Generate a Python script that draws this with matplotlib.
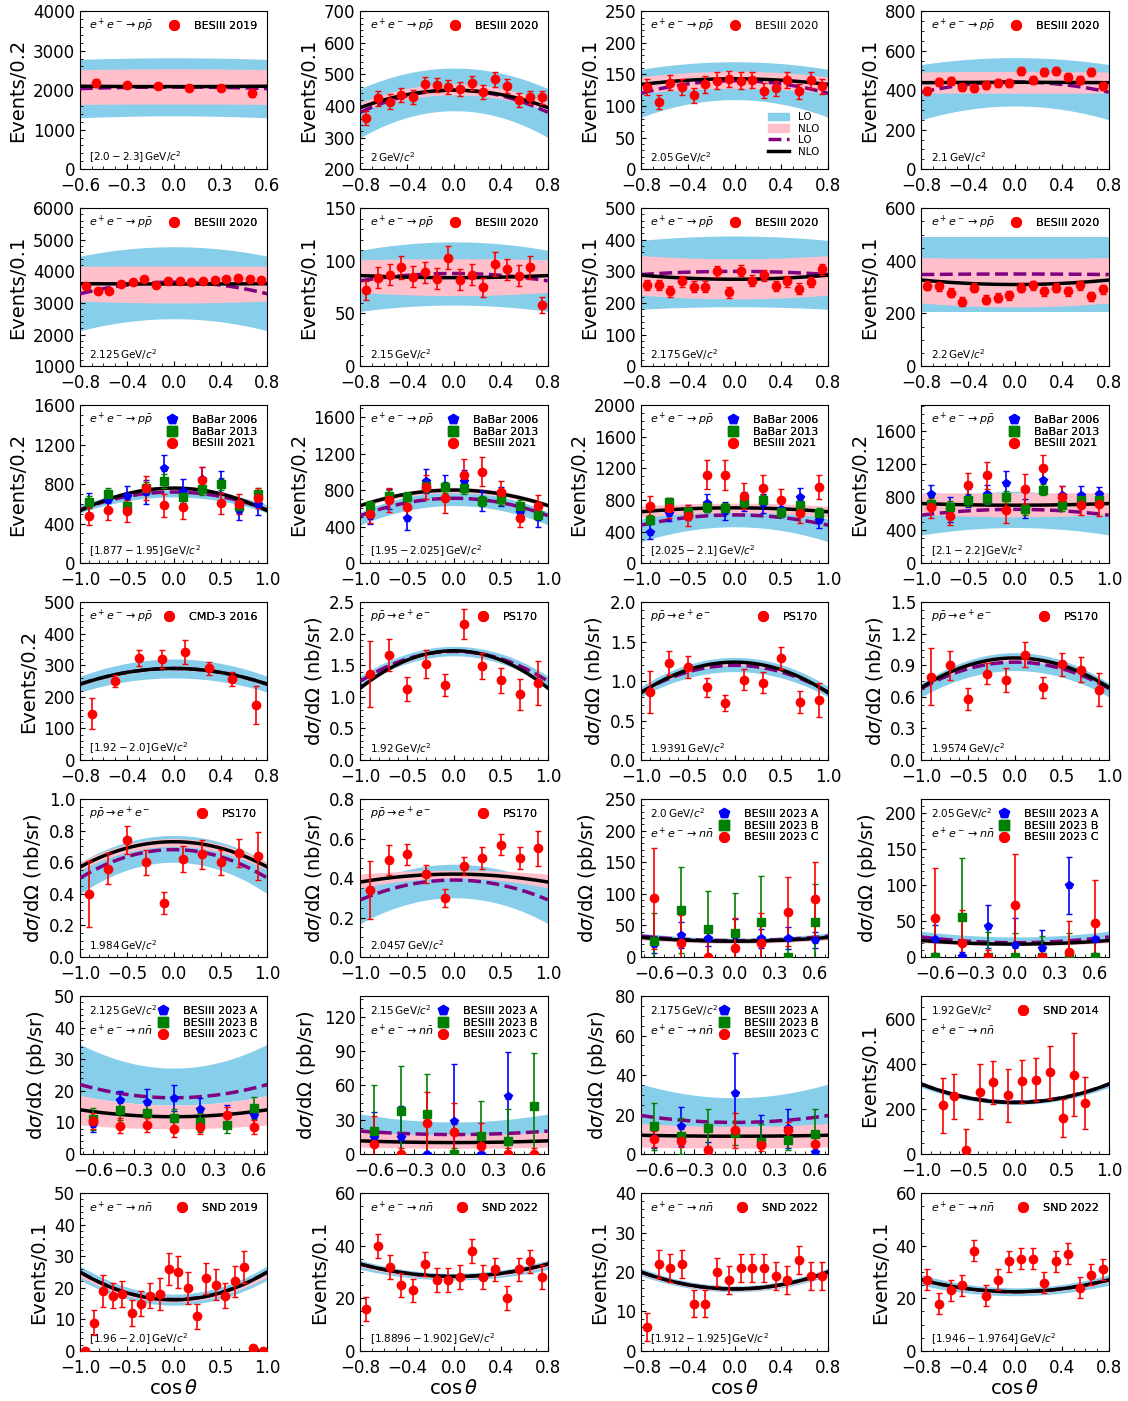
import numpy as np
import matplotlib.pyplot as plt
from matplotlib.lines import Line2D
from matplotlib.patches import Patch

# cos(theta) bin centres
cos6 = [-0.5, -0.3, -0.1, 0.1, 0.3, 0.5]
cos7 = [-0.6, -0.4, -0.2, 0.0, 0.2, 0.4, 0.6]
cos8 = [-0.7, -0.5, -0.3, -0.1, 0.1, 0.3, 0.5, 0.7]
cos10 = [-0.9, -0.7, -0.5, -0.3, -0.1, 0.1, 0.3, 0.5, 0.7, 0.9]
cos16 = [-0.75, -0.65, -0.55, -0.45, -0.35, -0.25, -0.15, -0.05,
         0.05, 0.15, 0.25, 0.35, 0.45, 0.55, 0.65, 0.75]
cos20 = [-0.95, -0.85, -0.75, -0.65, -0.55, -0.45, -0.35, -0.25, -0.15, -0.05,
         0.05, 0.15, 0.25, 0.35, 0.45, 0.55, 0.65, 0.75, 0.85, 0.95]
cos_snd14 = [-0.77, -0.65, -0.52, -0.38, -0.24, -0.08, 0.07, 0.22, 0.37, 0.51, 0.63, 0.75]

# ---- e+e- -> p pbar, BESIII 2019 / 2020 ----
bes19_y = [2190, 2120, 2100, 2060, 2060, 1920]
bes19_e = [100, 60, 60, 60, 60, 100]
bes20a_y = [362, 425, 413, 435, 428, 468, 465, 460, 455, 473, 443, 485, 463, 420, 427, 427]
bes20a_e = [22, 24, 24, 22, 22, 24, 22, 22, 22, 22, 22, 24, 22, 22, 22, 22]
bes20b_y = [130, 107, 137, 130, 117, 134, 140, 143, 140, 141, 124, 128, 141, 123, 141, 131]
bes20b_e = [12, 11, 12, 12, 12, 13, 13, 13, 13, 13, 12, 12, 13, 12, 13, 12]
bes20c_y = [395, 440, 445, 415, 410, 425, 435, 435, 495, 450, 490, 497, 465, 450, 490, 420]
bes20c_e = [20] * 16
bes20d_y = [3540, 3380, 3390, 3600, 3660, 3760, 3560, 3680, 3700, 3660, 3680, 3740, 3770, 3790, 3760, 3730]
bes20d_e = [60] * 16
bes20e_y = [72, 84, 87, 94, 85, 89, 83, 103, 82, 87, 75, 97, 92, 86, 94, 58]
bes20e_e = [9, 10, 10, 11, 10, 10, 10, 11, 10, 10, 9, 11, 10, 10, 11, 8]
bes20f_y = [257, 257, 237, 268, 251, 252, 300, 234, 302, 270, 288, 254, 268, 245, 266, 306]
bes20f_e = [17] * 16
bes20g_y = [305, 303, 278, 245, 298, 252, 260, 270, 298, 308, 285, 298, 285, 308, 266, 292]
bes20g_e = [17] * 16

# ---- BaBar 2006 / BaBar 2013 / BESIII 2021 ----
bb06_1_y = [610, 640, 680, 720, 960, 730, 850, 820, 540, 600]
bb06_1_e = [100, 100, 100, 120, 130, 120, 120, 110, 100, 110]
bb13_1_y = [620, 700, 575, 760, 830, 670, 750, 800, 580, 700]
bb13_1_e = [60, 60, 60, 60, 70, 60, 60, 60, 60, 60]
bes21_1_y = [480, 540, 530, 760, 585, 565, 840, 605, 600, 660]
bes21_1_e = [90, 100, 110, 120, 120, 120, 130, 110, 100, 100]

bb06_2_y = [520, 700, 490, 900, 840, 900, 680, 730, 560, 500]
bb06_2_e = [90, 110, 130, 130, 120, 120, 110, 100, 90, 100]
bb13_2_y = [620, 740, 720, 840, 830, 820, 680, 700, 630, 530]
bb13_2_e = [60] * 10
bes21_2_y = [540, 690, 610, 830, 710, 970, 1000, 780, 490, 630]
bes21_2_e = [100, 130, 130, 130, 160, 170, 160, 120, 100, 120]

bb06_3_y = [400, 640, 640, 760, 660, 780, 760, 680, 840, 540]
bb06_3_e = [100, 110, 100, 110, 120, 120, 120, 100, 110, 90]
bb13_3_y = [550, 770, 650, 710, 700, 770, 800, 650, 730, 640]
bb13_3_e = [60] * 10
bes21_3_y = [720, 700, 600, 1120, 1120, 850, 950, 800, 640, 960]
bes21_3_e = [130, 130, 130, 180, 190, 160, 170, 140, 130, 150]

bb06_4_y = [830, 650, 790, 830, 970, 660, 1000, 820, 820, 830]
bb06_4_e = [110, 150, 110, 110, 140, 110, 130, 110, 110, 90]
bb13_4_y = [720, 680, 760, 790, 800, 650, 890, 700, 760, 760]
bb13_4_e = [70] * 10
bes21_4_y = [680, 570, 940, 1060, 640, 900, 1150, 800, 700, 720]
bes21_4_e = [130, 110, 150, 160, 160, 180, 160, 130, 120, 150]

# ---- CMD-3 2016 ----
cmd3_y = [147, 250, 322, 320, 342, 290, 257, 175]
cmd3_e = [48, 18, 25, 30, 38, 20, 22, 60]

# ---- PS170, p pbar -> e+e- (nb/sr) ----
ps1_y = [1.36, 1.66, 1.13, 1.52, 1.19, 2.15, 1.49, 1.26, 1.04, 1.22]
ps1_e = [0.52, 0.25, 0.19, 0.22, 0.18, 0.24, 0.20, 0.20, 0.24, 0.35]
ps2_y = [0.86, 1.23, 1.18, 0.92, 0.72, 1.02, 0.98, 1.29, 0.73, 0.76]
ps2_e = [0.27, 0.15, 0.14, 0.12, 0.10, 0.13, 0.13, 0.14, 0.14, 0.22]
ps3_y = [0.79, 0.90, 0.58, 0.82, 0.76, 1.00, 0.69, 0.91, 0.86, 0.67]
ps3_e = [0.27, 0.14, 0.10, 0.10, 0.11, 0.12, 0.10, 0.11, 0.12, 0.16]
ps4_y = [0.40, 0.56, 0.74, 0.60, 0.34, 0.62, 0.65, 0.60, 0.66, 0.64]
ps4_e = [0.21, 0.10, 0.09, 0.08, 0.07, 0.08, 0.09, 0.08, 0.09, 0.15]
ps5_y = [0.34, 0.49, 0.52, 0.42, 0.30, 0.46, 0.50, 0.57, 0.50, 0.55]
ps5_e = [0.145, 0.075, 0.055, 0.045, 0.045, 0.045, 0.055, 0.055, 0.055, 0.09]

# ---- e+e- -> n nbar, BESIII 2023 A / B / C (pb/sr) ----
b23a_1_y = [20, 35, 30, 35, 30, 30, 27]
b23a_1_e = [13, 20, 12, 25, 15, 17, 12]
b23b_1_y = [25, 75, 45, 38, 55, 0, 55]
b23b_1_e = [45, 68, 60, 63, 73, 30, 60]
b23c_1_y = [93, 22, 0, 15, 23, 72, 92]
b23c_1_e = [80, 45, 40, 47, 47, 55, 58]

b23a_2_y = [25, 2, 43, 17, 13, 100, 25]
b23a_2_e = [20, 5, 30, 37, 24, 40, 20]
b23b_2_y = [0, 56, 0, 0, 0, 0, 0]
b23b_2_e = [50, 82, 35, 33, 30, 33, 47]
b23c_2_y = [54, 20, 0, 73, 0, 7, 48]
b23c_2_e = [70, 45, 10, 70, 10, 43, 60]

b23a_3_y = [9.5, 17, 16.5, 17.8, 14.3, 12.5, 12.3]
b23a_3_e = [2.5, 3, 4, 4.2, 3.5, 3, 3]
b23b_3_y = [11, 13.8, 13, 11.3, 10, 9.2, 14.5]
b23b_3_e = [3.5, 3, 3, 3, 3, 2.5, 3.5]
b23c_3_y = [10.5, 9, 9.2, 7.8, 8.5, 12.3, 8.5]
b23c_3_e = [2.5, 2.3, 2.3, 2.3, 2.3, 2.5, 2.3]

b23a_4_y = [15, 15, 0, 29, 0, 51, 0]
b23a_4_e = [22, 27, 0, 50, 0, 38, 0]
b23b_4_y = [20, 38, 35, 0, 16, 11, 42]
b23b_4_e = [40, 39, 35, 5, 30, 28, 46]
b23c_4_y = [9, 0, 27, 19, 7, 0, 0]
b23c_4_e = [24, 5, 27, 26, 20, 5, 5]

b23a_5_y = [8, 14, 2, 31, 5, 13, 1]
b23a_5_e = [5, 10, 4, 20, 15, 10, 3]
b23b_5_y = [14, 9, 13, 10.5, 6, 7, 10]
b23b_5_e = [12, 9, 10, 6, 9, 5, 13]
b23c_5_y = [7.5, 6.5, 2, 12, 4.5, 12, 5]
b23c_5_e = [4, 3, 2, 9, 3, 4, 4]

# ---- SND (events) ----
snd14_y = [215, 255, 18, 277, 317, 260, 323, 330, 362, 160, 352, 225]
snd14_e = [120, 100, 95, 120, 95, 118, 95, 95, 118, 85, 185, 115]
snd19_y = [0, 9, 19, 17.5, 18, 12, 15, 17.5, 18, 26, 25, 20, 11, 23, 21, 17.5, 22, 26.5, 1, 0]
snd19_e = [1, 4, 5, 4, 4, 4, 4, 4, 5, 5, 5, 5, 4, 5, 5, 4, 5, 5, 1, 1]
snd22a_y = [16, 40, 32, 25, 23, 33, 27, 27, 28, 38, 28, 31, 20, 31, 34, 28]
snd22a_e = [4.5] * 16
snd22b_y = [6, 22, 21, 22, 12, 12, 20, 18, 21, 21, 21, 19, 18, 23, 19, 19]
snd22b_e = [3.5] * 16
snd22c_y = [27, 18, 23, 25, 38, 21, 27, 34, 35, 35, 26, 34, 37, 24, 29, 31]
snd22c_e = [4] * 16

# ---- theory curves: (value at cos=0, value at the plotted edge), panel by panel ----
lo_band_low = [(1350, 1300), (385, 300), (110, 82), (320, 250),
               (2500, 2120), (58, 52), (188, 180), (205, 205),
               (670, 510), (630, 420), (460, 270), (430, 340),
               (260, 215), (1.65, 1.17), (1.12, 0.80), (0.85, 0.60),
               (0.60, 0.40), (0.30, 0.17), (22, 28), (18, 24),
               (15.5, 18.5), (8, 10), (13, 15), (220, 295),
               (14.5, 22.5), (27, 31), (15, 19), (21, 25)]
lo_band_high = [(2820, 2780), (520, 455), (170, 158), (565, 530),
                (4780, 4480), (118, 110), (412, 398), (490, 490),
                (750, 590), (780, 560), (700, 560), (870, 600),
                (320, 265), (1.80, 1.33), (1.30, 0.93), (1.02, 0.73),
                (0.77, 0.60), (0.47, 0.36), (30, 38), (28, 36),
                (27.2, 34.8), (28, 35), (28.5, 35.5), (240, 320),
                (18, 27), (29.5, 34.5), (16.5, 21), (24, 29)]
nlo_band_low = [(1650, 1640), (435, 385), (128, 120), (385, 385),
                (3000, 3060), (67, 70), (213, 225), (225, 240),
                (740, 520), (770, 610), (640, 580), (560, 590),
                (285, 235), (1.70, 1.12), (1.20, 0.84), (0.94, 0.68),
                (0.70, 0.55), (0.40, 0.35), (22, 27), (16, 20),
                (8, 9.2), (5, 6), (3, 3.5), (224, 305),
                (15.5, 23.5), (27.5, 32), (15.2, 19.4), (21.8, 26.3)]
nlo_band_high = [(2540, 2520), (470, 412), (155, 146), (495, 492),
                 (4170, 4160), (102, 101), (340, 350), (410, 412),
                 (780, 560), (830, 660), (760, 720), (850, 850),
                 (295, 245), (1.76, 1.17), (1.26, 0.88), (0.99, 0.71),
                 (0.75, 0.60), (0.44, 0.42), (28, 33), (22, 27),
                 (15.5, 18.5), (17, 19), (14, 15.5), (234, 315),
                 (17, 25.5), (29, 34), (16.2, 20.6), (23.2, 27.7)]
lo_line = [(2080, 2040), (450, 380), (140, 120), (442, 390),
           (3660, 3290), (88, 81), (300, 290), (350, 348),
           (720, 540), (710, 520), (610, 480), (650, 580),
           (290, 240), (1.72, 1.25), (1.20, 0.86), (0.93, 0.68),
           (0.68, 0.50), (0.39, 0.29), (26, 33), (20, 28),
           (17.8, 22), (17, 20), (16, 19.5), (230, 310),
           (16.3, 25), (28.3, 33), (15.7, 20), (22.5, 27)]
nlo_line = [(2090, 2100), (450, 395), (143, 134), (440, 438),
            (3600, 3610), (84, 86), (275, 288), (310, 327),
            (760, 530), (800, 630), (700, 650), (700, 720),
            (290, 240), (1.73, 1.14), (1.24, 0.85), (0.97, 0.69),
            (0.73, 0.57), (0.42, 0.38), (25, 31), (18, 23),
            (11.8, 14), (10, 11.5), (9, 9.5), (228, 310),
            (16.2, 25), (28.3, 33), (15.7, 20), (22.5, 27)]

# ---- labels ----
pp = r'$e^+e^-\rightarrow p\bar{p}$'
ppee = r'$p\bar{p}\rightarrow e^+e^-$'
nn = r'$e^+e^-\rightarrow n\bar{n}$'
ev1 = 'Events/0.1'
ev2 = 'Events/0.2'
nb = r'd$\sigma$/d$\Omega$ (nb/sr)'
pb = r'd$\sigma$/d$\Omega$ (pb/sr)'
energies = [r'$[2.0-2.3]\,\mathrm{GeV}/c^2$', r'$2\,\mathrm{GeV}/c^2$',
            r'$2.05\,\mathrm{GeV}/c^2$', r'$2.1\,\mathrm{GeV}/c^2$',
            r'$2.125\,\mathrm{GeV}/c^2$', r'$2.15\,\mathrm{GeV}/c^2$',
            r'$2.175\,\mathrm{GeV}/c^2$', r'$2.2\,\mathrm{GeV}/c^2$',
            r'$[1.877-1.95]\,\mathrm{GeV}/c^2$', r'$[1.95-2.025]\,\mathrm{GeV}/c^2$',
            r'$[2.025-2.1]\,\mathrm{GeV}/c^2$', r'$[2.1-2.2]\,\mathrm{GeV}/c^2$',
            r'$[1.92-2.0]\,\mathrm{GeV}/c^2$', r'$1.92\,\mathrm{GeV}/c^2$',
            r'$1.9391\,\mathrm{GeV}/c^2$', r'$1.9574\,\mathrm{GeV}/c^2$',
            r'$1.984\,\mathrm{GeV}/c^2$', r'$2.0457\,\mathrm{GeV}/c^2$',
            r'$2.0\,\mathrm{GeV}/c^2$', r'$2.05\,\mathrm{GeV}/c^2$',
            r'$2.125\,\mathrm{GeV}/c^2$', r'$2.15\,\mathrm{GeV}/c^2$',
            r'$2.175\,\mathrm{GeV}/c^2$', r'$1.92\,\mathrm{GeV}/c^2$',
            r'$[1.96-2.0]\,\mathrm{GeV}/c^2$', r'$[1.8896-1.902]\,\mathrm{GeV}/c^2$',
            r'$[1.912-1.925]\,\mathrm{GeV}/c^2$', r'$[1.946-1.9764]\,\mathrm{GeV}/c^2$']

RED = ('o', 'red')
BLUE = ('p', 'blue')
GREEN = ('s', 'green')

t6 = [-0.6, -0.3, 0.0, 0.3, 0.6]
t8 = [-0.8, -0.4, 0.0, 0.4, 0.8]
t10 = [-1.0, -0.5, 0.0, 0.5, 1.0]


def babar(b06y, b06e, b13y, b13e, b21y, b21e):
    return [('BaBar 2006', BLUE, cos10, b06y, b06e),
            ('BaBar 2013', GREEN, cos10, b13y, b13e),
            ('BESIII 2021', RED, cos10, b21y, b21e)]


def bes23(ay, ae, by, be, cy, ce):
    return [('BESIII 2023 A', BLUE, cos7, ay, ae),
            ('BESIII 2023 B', GREEN, cos7, by, be),
            ('BESIII 2023 C', RED, cos7, cy, ce)]


# (xlim edge, xticks, ylim, yticks, ylabel, reaction, energy-on-top, datasets)
panels = [
    (0.6, t6, (0, 4000), np.arange(0, 4001, 1000), ev2, pp, False,
     [('BESIII 2019', RED, cos6, bes19_y, bes19_e)]),
    (0.8, t8, (200, 700), np.arange(200, 701, 100), ev1, pp, False,
     [('BESIII 2020', RED, cos16, bes20a_y, bes20a_e)]),
    (0.8, t8, (0, 250), np.arange(0, 251, 50), ev1, pp, False,
     [('BESIII 2020', RED, cos16, bes20b_y, bes20b_e)]),
    (0.8, t8, (0, 800), np.arange(0, 801, 200), ev1, pp, False,
     [('BESIII 2020', RED, cos16, bes20c_y, bes20c_e)]),
    (0.8, t8, (1000, 6000), np.arange(1000, 6001, 1000), ev1, pp, False,
     [('BESIII 2020', RED, cos16, bes20d_y, bes20d_e)]),
    (0.8, t8, (0, 150), np.arange(0, 151, 50), ev1, pp, False,
     [('BESIII 2020', RED, cos16, bes20e_y, bes20e_e)]),
    (0.8, t8, (0, 500), np.arange(0, 501, 100), ev1, pp, False,
     [('BESIII 2020', RED, cos16, bes20f_y, bes20f_e)]),
    (0.8, t8, (0, 600), np.arange(0, 601, 200), ev1, pp, False,
     [('BESIII 2020', RED, cos16, bes20g_y, bes20g_e)]),
    (1.0, t10, (0, 1600), np.arange(0, 1601, 400), ev2, pp, False,
     babar(bb06_1_y, bb06_1_e, bb13_1_y, bb13_1_e, bes21_1_y, bes21_1_e)),
    (1.0, t10, (0, 1730), np.arange(0, 1601, 400), ev2, pp, False,
     babar(bb06_2_y, bb06_2_e, bb13_2_y, bb13_2_e, bes21_2_y, bes21_2_e)),
    (1.0, t10, (0, 2000), np.arange(0, 2001, 400), ev2, pp, False,
     babar(bb06_3_y, bb06_3_e, bb13_3_y, bb13_3_e, bes21_3_y, bes21_3_e)),
    (1.0, t10, (0, 1910), np.arange(0, 1601, 400), ev2, pp, False,
     babar(bb06_4_y, bb06_4_e, bb13_4_y, bb13_4_e, bes21_4_y, bes21_4_e)),
    (0.8, t8, (0, 500), np.arange(0, 501, 100), ev2, pp, False,
     [('CMD-3 2016', RED, cos8, cmd3_y, cmd3_e)]),
    (1.0, t10, (0, 2.5), np.arange(0, 2.51, 0.5), nb, ppee, False,
     [('PS170', RED, cos10, ps1_y, ps1_e)]),
    (1.0, t10, (0, 2.0), np.arange(0, 2.01, 0.5), nb, ppee, False,
     [('PS170', RED, cos10, ps2_y, ps2_e)]),
    (1.0, t10, (0, 1.5), np.arange(0, 1.51, 0.3), nb, ppee, False,
     [('PS170', RED, cos10, ps3_y, ps3_e)]),
    (1.0, t10, (0, 1.0), np.arange(0, 1.01, 0.2), nb, ppee, False,
     [('PS170', RED, cos10, ps4_y, ps4_e)]),
    (1.0, t10, (0, 0.8), np.arange(0, 0.81, 0.2), nb, ppee, False,
     [('PS170', RED, cos10, ps5_y, ps5_e)]),
    (0.7, t6, (0, 250), np.arange(0, 251, 50), pb, nn, True,
     bes23(b23a_1_y, b23a_1_e, b23b_1_y, b23b_1_e, b23c_1_y, b23c_1_e)),
    (0.7, t6, (0, 220), np.arange(0, 201, 50), pb, nn, True,
     bes23(b23a_2_y, b23a_2_e, b23b_2_y, b23b_2_e, b23c_2_y, b23c_2_e)),
    (0.7, t6, (0, 50), np.arange(0, 51, 10), pb, nn, True,
     bes23(b23a_3_y, b23a_3_e, b23b_3_y, b23b_3_e, b23c_3_y, b23c_3_e)),
    (0.7, t6, (0, 138), np.arange(0, 121, 30), pb, nn, True,
     bes23(b23a_4_y, b23a_4_e, b23b_4_y, b23b_4_e, b23c_4_y, b23c_4_e)),
    (0.7, t6, (0, 80), np.arange(0, 81, 20), pb, nn, True,
     bes23(b23a_5_y, b23a_5_e, b23b_5_y, b23b_5_e, b23c_5_y, b23c_5_e)),
    (1.0, t10, (0, 700), np.arange(0, 601, 200), ev1, nn, True,
     [('SND 2014', RED, cos_snd14, snd14_y, snd14_e)]),
    (1.0, t10, (0, 50), np.arange(0, 51, 10), ev1, nn, False,
     [('SND 2019', RED, cos20, snd19_y, snd19_e)]),
    (0.8, t8, (0, 60), np.arange(0, 61, 20), ev1, nn, False,
     [('SND 2022', RED, cos16, snd22a_y, snd22a_e)]),
    (0.8, t8, (0, 40), np.arange(0, 41, 10), ev1, nn, False,
     [('SND 2022', RED, cos16, snd22b_y, snd22b_e)]),
    (0.8, t8, (0, 60), np.arange(0, 61, 20), ev1, nn, False,
     [('SND 2022', RED, cos16, snd22c_y, snd22c_e)]),
]


def shape(pair, xmax, x):
    # 1 + alpha cos^2(theta) shape through the read-off centre and edge values
    c, e = pair
    return c + (e - c) * (x / xmax) ** 2


def main():
    fig, axes = plt.subplots(7, 4, figsize=(11.28, 14.01), dpi=100)
    fig.subplots_adjust(left=0.0709, right=0.983, bottom=0.0357, top=0.992,
                        wspace=0.497, hspace=0.247)

    for i, ax in enumerate(axes.flat):
        xmax, xt, ylim, yt, ylab, reac, top_energy, data = panels[i]
        x = np.linspace(-xmax, xmax, 200)

        ax.fill_between(x, shape(lo_band_low[i], xmax, x), shape(lo_band_high[i], xmax, x),
                        color='skyblue', lw=0, zorder=1)
        ax.fill_between(x, shape(nlo_band_low[i], xmax, x), shape(nlo_band_high[i], xmax, x),
                        color='pink', lw=0, zorder=2)
        ax.plot(x, shape(lo_line[i], xmax, x), '--', color='purple', lw=2.5, zorder=3)
        ax.plot(x, shape(nlo_line[i], xmax, x), '-', color='black', lw=2.5, zorder=4)

        handles = []
        for name, (mk, col), cx, cy, ce in data:
            ax.errorbar(cx, cy, yerr=ce, fmt=mk, color=col, ms=6, capsize=2,
                        elinewidth=1.2, zorder=5)
            handles.append(Line2D([], [], marker=mk, color=col, ls='none', ms=7, label=name))
        leg = ax.legend(handles=handles, loc='upper right', frameon=False, fontsize=8,
                        labelspacing=0.15, handletextpad=0.8)
        ax.add_artist(leg)

        if i == 2:
            theo = [Patch(color='skyblue', label='LO'), Patch(color='pink', label='NLO'),
                    Line2D([], [], ls='--', color='purple', lw=2.5, label='LO'),
                    Line2D([], [], ls='-', color='black', lw=2.5, label='NLO')]
            ax.legend(handles=theo, loc='lower right', frameon=False, fontsize=7.5,
                      labelspacing=0.15, bbox_to_anchor=(1.0, 0.02))

        if top_energy:
            ax.text(0.05, 0.905, energies[i], transform=ax.transAxes, fontsize=7.5, va='center')
            ax.text(0.05, 0.785, reac, transform=ax.transAxes, fontsize=8, va='center')
        else:
            ax.text(0.05, 0.91, reac, transform=ax.transAxes, fontsize=8, va='center')
            ax.text(0.05, 0.075, energies[i], transform=ax.transAxes, fontsize=7.5, va='center')

        ax.set_xlim(-xmax, xmax)
        ax.set_xticks(xt)
        ax.set_ylim(*ylim)
        ax.set_yticks(yt)
        ax.minorticks_on()
        ax.tick_params(which='both', direction='in', labelsize=12)
        ax.tick_params(axis='x', which='major', pad=6)
        ax.tick_params(which='minor', length=2)
        ax.set_ylabel(ylab, fontsize=14)
        if i >= 24:
            ax.set_xlabel(r'$\cos\theta$', fontsize=14, labelpad=1)

    plt.savefig('out.png', dpi=100)


if __name__ == '__main__':
    main()
